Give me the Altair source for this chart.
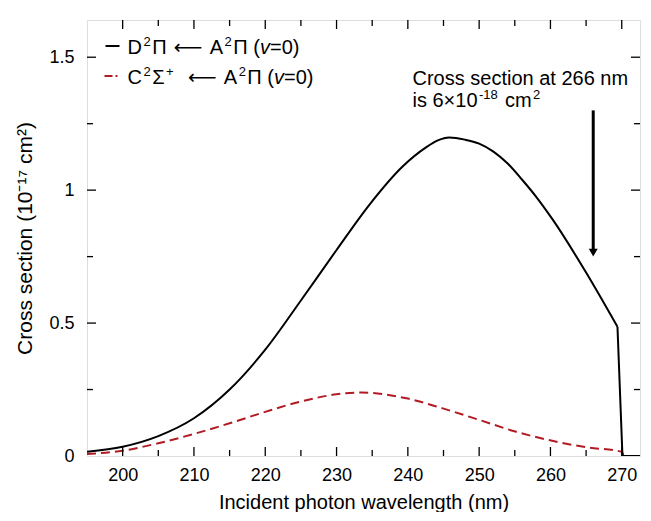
import altair as alt
import pandas as pd

# ---- data ----
d_wl = [195, 200, 205, 210, 215, 220, 225, 230, 234.6, 239.3, 242.5, 244.2, 245.8, 248, 250, 252, 254, 256, 258, 260.3, 265, 269.4]
d_val = [0.016, 0.035, 0.075, 0.142, 0.25, 0.40, 0.585, 0.775, 0.945, 1.09, 1.16, 1.187, 1.198, 1.19, 1.175, 1.145, 1.10, 1.04, 0.975, 0.89, 0.69, 0.486]
drop_wl = [269.4, 270.1, 275]
drop_val = [0.486, 0.0, 0.0]

c_wl = [195, 200, 205, 210, 215, 220, 225, 230, 233.5, 239.8, 244.9, 250.1, 255.2, 260.1, 265, 270, 270.3, 275]
c_val = [0.0075, 0.02, 0.048, 0.083, 0.123, 0.166, 0.205, 0.232, 0.239, 0.217, 0.179, 0.135, 0.091, 0.058, 0.033, 0.016, 0.0, 0.0]

x_major = [200, 210, 220, 230, 240, 250, 260, 270]
x_minor = [205, 215, 225, 235, 245, 255, 265]
y_major = [0, 0.5, 1, 1.5]
y_minor = [0.25, 0.75, 1.25]

arrow_x = [266]
arrow_top = [1.30]
arrow_tip = [0.75]

x_title = "Incident photon wavelength (nm)"
y_title = "Cross section (10\u207b\u00b9\u2077 cm\u00b2)"

# legend / annotation text runs: (text, kind)
legend_runs = [
    [("D", "n"), ("2", "sup"), ("\u03a0 ", "n"), ("\u27f5", "arrow"), (" A", "n"), ("2", "sup"),
     ("\u03a0 (", "n"), ("v", "it"), ("=0)", "n")],
    [("C", "n"), ("2", "sup"), ("\u03a3", "n"), ("+", "sup"), (" ", "n"), ("\u27f5", "arrow"), (" A", "n"),
     ("2", "sup"), ("\u03a0 (", "n"), ("v", "it"), ("=0)", "n")],
]
annot_runs = [
    [("Cross section at 266 nm", "n")],
    [("is 6\u00d710", "n"), ("-18", "sup"), (" cm", "n"), ("2", "sup")],
]

# ---- layout ----
W, H = 553, 436
XDOM = [195, 272.56]
YDOM = [0, 1.64]
FONT = "Liberation Sans"
RED = "#b31b24"
PX_X = W / (XDOM[1] - XDOM[0])
PX_Y = H / (YDOM[1] - YDOM[0])

# Arial / Liberation Sans advance widths (per 1000 em)
ADV = {'D': 722, 'C': 722, 'A': 667, '\u03a0': 722, '\u03a3': 618, '+': 584, '2': 556, ' ': 278,
       '(': 333, ')': 333, 'v': 500, '=': 584, '0': 556, 'i': 222, 's': 500, '6': 556, '\u00d7': 584,
       '1': 556, '-': 333, '8': 556, 'c': 500, 'm': 833, '7': 556}


def text_width(s, size):
    return sum(ADV.get(ch, 556) for ch in s) * size / 1000.0


def layout_runs(runs, x0, baseline, size):
    sup = round(size * 0.66)
    out = []
    x = x0
    for txt, kind in runs:
        if kind == "arrow":
            slot = size * 1.6
            out.append({"t": txt, "x": x + slot / 2, "y": baseline, "s": size, "k": "arrow"})
            x += slot
            continue
        s = sup if kind == "sup" else size
        y = baseline - size * 0.40 if kind == "sup" else baseline
        lead = len(txt) - len(txt.lstrip(" "))
        trail = len(txt) - len(txt.rstrip(" "))
        core = txt.strip(" ")
        x += lead * text_width(" ", s)
        if kind == "sup":
            x += 1.5
        if core:
            out.append({"t": core, "x": x, "y": y, "s": s, "k": "it" if kind == "it" else "n"})
            x += text_width(core, s)
        if kind == "sup":
            x += 1.5
        x += trail * text_width(" ", s)
    return out


LEG_SIZE = 20
pieces = []
pieces += layout_runs(legend_runs[0], 40.5, 34, LEG_SIZE)
pieces += layout_runs(legend_runs[1], 40.5, 64, LEG_SIZE)
pieces += layout_runs(annot_runs[0], 325.5, 65, 20)
pieces += layout_runs(annot_runs[1], 325.5, 86.7, 20)
pdf = pd.DataFrame(pieces)

xs = alt.Scale(domain=XDOM, nice=False, zero=False)
ys = alt.Scale(domain=YDOM, nice=False, zero=False)

df_d = pd.DataFrame({"wl": d_wl, "val": d_val})
df_drop = pd.DataFrame({"wl": drop_wl, "val": drop_val})
df_c = pd.DataFrame({"wl": c_wl, "val": c_val})

line_c = alt.Chart(df_c).mark_line(color=RED, strokeWidth=2, strokeDash=[9, 5], interpolate="monotone",
                                   clip=True).encode(
    x=alt.X("wl:Q", scale=xs,
            axis=alt.Axis(title=x_title, values=x_major, ticks=False, tickSize=0, domain=False,
                          grid=False, labelFontSize=18, titleFontSize=20, labelFont=FONT, titleFont=FONT,
                          labelColor="black", titleColor="black", titleFontWeight="normal", labelPadding=10,
                          titlePadding=8)),
    y=alt.Y("val:Q", scale=ys,
            axis=alt.Axis(title=y_title, values=y_major, ticks=False, tickSize=0,
                          domain=False, grid=False, format="~g", labelFontSize=18, titleFontSize=21,
                          labelFont=FONT, titleFont=FONT, labelColor="black", titleColor="black",
                          titleFontWeight="normal", labelPadding=13, titlePadding=13)),
)

line_d = alt.Chart(df_d).mark_line(color="black", strokeWidth=2, interpolate="monotone", clip=True).encode(
    x=alt.X("wl:Q", scale=xs), y=alt.Y("val:Q", scale=ys))
line_drop = alt.Chart(df_drop).mark_line(color="black", strokeWidth=2, clip=True).encode(
    x=alt.X("wl:Q", scale=xs), y=alt.Y("val:Q", scale=ys))

tick_rows_x = []
for v in x_major:
    tick_rows_x.append({"v": v, "a": YDOM[0], "b": YDOM[0] + 9 / PX_Y})
    tick_rows_x.append({"v": v, "a": YDOM[1], "b": YDOM[1] - 9 / PX_Y})
for v in x_minor:
    tick_rows_x.append({"v": v, "a": YDOM[0], "b": YDOM[0] + 6 / PX_Y})
    tick_rows_x.append({"v": v, "a": YDOM[1], "b": YDOM[1] - 6 / PX_Y})
tick_rows_y = []
for v in y_major[1:]:
    tick_rows_y.append({"v": v, "a": XDOM[0], "b": XDOM[0] + 9 / PX_X})
    tick_rows_y.append({"v": v, "a": XDOM[1], "b": XDOM[1] - 9 / PX_X})
for v in y_minor:
    tick_rows_y.append({"v": v, "a": XDOM[0], "b": XDOM[0] + 6 / PX_X})
    tick_rows_y.append({"v": v, "a": XDOM[1], "b": XDOM[1] - 6 / PX_X})

ticks_x = alt.Chart(pd.DataFrame(tick_rows_x)).mark_rule(color="black", strokeWidth=1.3).encode(
    x=alt.X("v:Q", scale=xs), y=alt.Y("a:Q", scale=ys), y2="b:Q")
ticks_y = alt.Chart(pd.DataFrame(tick_rows_y)).mark_rule(color="black", strokeWidth=1.3).encode(
    y=alt.Y("v:Q", scale=ys), x=alt.X("a:Q", scale=xs), x2="b:Q")

df_arrow = pd.DataFrame({"x": arrow_x, "top": arrow_top, "tip": arrow_tip})
df_arrow["bottom"] = df_arrow["tip"] + 6 / PX_Y
df_arrow["head"] = df_arrow["tip"] + 4 / PX_Y
arrow_line = alt.Chart(df_arrow).mark_rule(color="black", strokeWidth=3).encode(
    x=alt.X("x:Q", scale=xs), y=alt.Y("top:Q", scale=ys), y2="bottom:Q")
arrow_head = alt.Chart(df_arrow).mark_point(shape="triangle-down", filled=True, color="black", opacity=1,
                                            size=80).encode(
    x=alt.X("x:Q", scale=xs), y=alt.Y("head:Q", scale=ys))

txt_n = alt.Chart(pdf).transform_filter(alt.datum.k == "n").mark_text(
    align="left", baseline="alphabetic", font=FONT, color="black").encode(
    text="t:N", x=alt.X("x:Q", scale=None), y=alt.Y("y:Q", scale=None), size=alt.Size("s:Q", scale=None))
txt_it = alt.Chart(pdf).transform_filter(alt.datum.k == "it").mark_text(
    align="left", baseline="alphabetic", font=FONT, fontStyle="italic", color="black").encode(
    text="t:N", x=alt.X("x:Q", scale=None), y=alt.Y("y:Q", scale=None), size=alt.Size("s:Q", scale=None))
txt_ar = alt.Chart(pdf).transform_filter(alt.datum.k == "arrow").mark_text(
    align="center", baseline="alphabetic", font="DejaVu Sans", color="black").encode(
    text="t:N", x=alt.X("x:Q", scale=None), y=alt.Y("y:Q", scale=None), size=alt.Size("s:Q", scale=None))

leg_line_d = alt.Chart(pd.DataFrame({"a": [0]})).mark_rule(color="black", strokeWidth=2).encode(
    x=alt.value(18.5), x2=alt.value(32.5), y=alt.value(26))
leg_line_c = alt.Chart(pd.DataFrame({"a": [0]})).mark_rule(color=RED, strokeWidth=2, strokeDash=[8, 3, 2, 3]).encode(
    x=alt.value(17.5), x2=alt.value(30.5), y=alt.value(56))

chart = alt.layer(line_c, line_d, line_drop, ticks_x, ticks_y, arrow_line, arrow_head,
                  leg_line_d, leg_line_c, txt_n, txt_it, txt_ar).properties(
    width=W, height=H, padding={"left": 6, "top": 11, "right": 0, "bottom": 0}
).configure_view(stroke="black", strokeWidth=1.5).configure(background="white")

chart.save("out.html", embed_options={"renderer": "svg", "actions": False})
